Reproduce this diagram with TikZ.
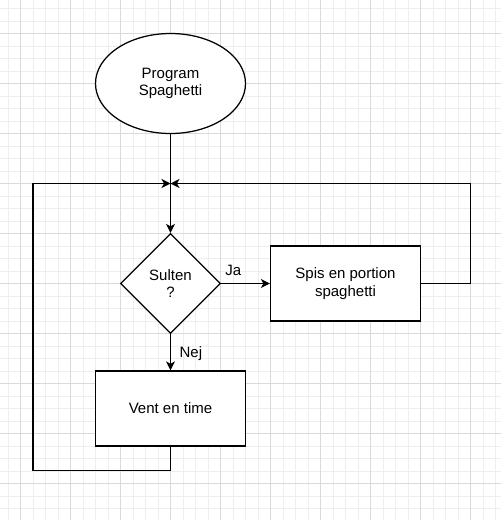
\documentclass[tikz,border=0pt]{standalone}
\usepackage{fontspec}
\setmainfont{Liberation Sans}
\usetikzlibrary{shapes.geometric,arrows.meta}
\definecolor{gridminor}{RGB}{238,238,238}
\definecolor{gridmajor}{RGB}{218,218,218}
\tikzset{
  base/.style={draw=black, line width=1.25pt, fill=white, align=center, inner sep=0pt, font=\fontsize{15}{17.25}\selectfont},
  startbox/.style={base, ellipse, minimum width=150, minimum height=100},
  decbox/.style={base, diamond, minimum width=100, minimum height=100},
  procbox/.style={base, rectangle, minimum width=150, minimum height=75},
  conn/.style={draw=black, line width=1.25pt},
  arr/.style={conn, -{Stealth[length=9pt, width=9pt, inset=2.5pt]}},
  lbl/.style={font=\fontsize{15}{17.25}\selectfont, inner sep=0pt},
  minorline/.style={draw=gridminor, line width=0.9pt},
  majorline/.style={draw=gridmajor, line width=0.9pt}
}
\begin{document}
\begin{tikzpicture}[x=1pt, y=-1pt]
\useasboundingbox (0,0) rectangle (501,520);
\fill[white] (0,0) rectangle (501,520);
% grid
\foreach \i in {0,...,39} {\draw[minorline] ({8+12.5*\i},0) -- ({8+12.5*\i},520);}
\foreach \i in {0,...,40} {\draw[minorline] (0,{8.5+12.5*\i}) -- (501,{8.5+12.5*\i});}
\foreach \i in {0,...,9} {\draw[majorline] ({20.5+50*\i},0) -- ({20.5+50*\i},520);}
\foreach \i in {0,...,9} {\draw[majorline] (0,{33.5+50*\i}) -- (501,{33.5+50*\i});}
% nodes
\node[startbox] (start) at (170.5,83.5) {Program\\Spaghetti};
\node[decbox] (dec) at (170.5,283.5) {Sulten\\?};
\node[procbox] (spis) at (345.5,283.5) {Spis en portion\\spaghetti};
\node[procbox] (vent) at (170.5,408.5) {Vent en time};
\coordinate (j) at (170.5,183.5);
\coordinate (r) at (470.5,183.5);
\coordinate (bl) at (33,470.5);
% connectors
\draw[conn] (start.south) -- (j);
\draw[arr] (j) -- (dec.north);
\draw[arr] (dec.east) -- node[lbl, pos=0, anchor=base west, xshift=3.5pt, yshift=8pt] (ja) {Ja} (spis.west);
\draw[arr] (dec.south) -- node[lbl, pos=0, anchor=base west, xshift=8.5pt, yshift=-23.5pt] (nej) {Nej} (vent.north);
\draw[arr] (spis.east) -| (r) -- (j);
\draw[arr] (vent.south) |- (bl) |- (j);
\end{tikzpicture}
\end{document}
